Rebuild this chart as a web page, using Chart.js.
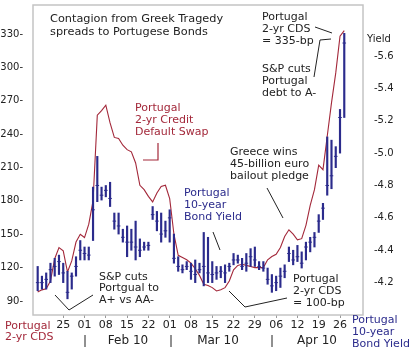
<!DOCTYPE html>
<html>
<head>
<meta charset="utf-8">
<script src="https://cdn.jsdelivr.net/npm/chart.js@4/dist/chart.umd.min.js"></script>
<style>
html,body{margin:0;padding:0;background:#fff;}
canvas{display:block;}
</style>
</head>
<body>
<canvas id="c" width="410" height="356"></canvas>
<script>
// Trading-day index (index 5 = Jan 25, 2010; 5 trading days per week)
const tradingDay = [-1,0,1,2,3,4,5,6,7,8,9,10,11,12,13,14,15,16,17,18,19,20,21,22,23,24,25,26,27,28,29,30,31,32,33,34,35,36,37,38,39,40,41,42,43,44,45,46,47,48,49,50,51,52,53,54,55,56,57,58,59,60,61,62,63,64,65,66,67,68,69,70,71];
const yieldHigh = [4.30,4.24,4.26,4.32,4.35,4.37,4.32,4.27,4.26,4.36,4.46,4.42,4.42,4.79,4.98,4.79,4.80,4.82,4.63,4.63,4.53,4.55,4.53,4.58,4.47,4.45,4.45,4.67,4.64,4.63,4.58,4.65,4.50,4.36,4.31,4.33,4.32,4.34,4.32,4.51,4.48,4.33,4.30,4.30,4.31,4.32,4.38,4.37,4.35,4.38,4.41,4.42,4.33,4.33,4.29,4.25,4.24,4.29,4.31,4.42,4.40,4.43,4.39,4.45,4.48,4.51,4.62,4.69,5.10,5.08,5.04,5.27,5.74];
const yieldLow  = [4.15,4.16,4.16,4.20,4.24,4.25,4.20,4.10,4.16,4.24,4.34,4.34,4.34,4.46,4.70,4.71,4.73,4.67,4.53,4.50,4.45,4.36,4.40,4.34,4.36,4.40,4.40,4.59,4.52,4.45,4.48,4.45,4.32,4.27,4.26,4.28,4.22,4.20,4.26,4.18,4.20,4.20,4.22,4.23,4.20,4.27,4.31,4.32,4.28,4.27,4.30,4.30,4.28,4.27,4.19,4.14,4.15,4.17,4.23,4.33,4.31,4.33,4.29,4.34,4.39,4.42,4.51,4.59,4.74,4.78,4.91,5.00,5.22];
const yieldClose= [4.20,4.20,4.22,4.28,4.30,4.33,4.26,4.14,4.24,4.30,4.40,4.38,4.37,4.65,4.80,4.74,4.77,4.72,4.58,4.55,4.48,4.45,4.45,4.42,4.40,4.42,4.43,4.62,4.58,4.50,4.52,4.60,4.35,4.30,4.28,4.30,4.27,4.25,4.28,4.30,4.26,4.25,4.26,4.27,4.26,4.30,4.34,4.34,4.30,4.32,4.36,4.34,4.30,4.29,4.22,4.18,4.20,4.24,4.27,4.38,4.34,4.36,4.32,4.42,4.45,4.48,4.58,4.66,4.80,4.86,4.98,5.22,5.68];
const cdsSpread = [98,100,101,108,128,138,135,116,126,143,150,147,159,180,257,261,266,250,237,236,230,226,224,214,194,190,184,179,187,193,194,182,150,131,129,127,124,119,113,105,104,102,99,100,102,108,118,122,123,122,121,120,120,120,127,130,132,138,148,154,150,145,146,158,176,190,212,208,238,268,295,328,333];

const xTickDays   = [5,10,15,20,25,30,35,40,45,50,55,60,65,70];
const xTickLabels = ['25','01','08','15','22','01','08','15','22','29','06','12','19','26'];
const leftTicks  = [90,120,150,180,210,240,270,300,330];
const rightTicks = [4.2,4.4,4.6,4.8,5.0,5.2,5.4,5.6];
const months = ['Feb 10','Mar 10','Apr 10'];

const RED = '#a3283a';
const BLUE = '#2b2b8c';
const FONT = "'DejaVu Sans', Verdana, sans-serif";

const annotations = {
  id: 'annot',
  afterDraw(chart) {
    const ctx = chart.ctx;
    const a = chart.chartArea;
    ctx.save();
    ctx.strokeStyle = '#c4c4c4';
    ctx.lineWidth = 1.5;
    ctx.strokeRect(a.left, a.top, a.right - a.left, a.bottom - a.top);

    function txt(lines, x, y, color, size, step) {
      ctx.fillStyle = color;
      ctx.font = size + 'px ' + FONT;
      ctx.textBaseline = 'middle';
      ctx.textAlign = 'left';
      lines.forEach((l, k) => ctx.fillText(l, x, y + k * step));
    }
    function poly(pts, color, w) {
      ctx.strokeStyle = color;
      ctx.lineWidth = w || 1;
      ctx.beginPath();
      pts.forEach((p, k) => k ? ctx.lineTo(p[0], p[1]) : ctx.moveTo(p[0], p[1]));
      ctx.stroke();
    }
    txt(['Contagion from Greek Tragedy', 'spreads to Portugese Bonds'], 50, 19, '#222', 11.3, 13);
    txt(['Portugal', '2-yr Credit', 'Default Swap'], 135, 108, RED, 11, 12);
    txt(['Portugal', '10-year', 'Bond Yield'], 184, 193, BLUE, 11, 12);
    txt(['Portugal', '2-yr CDS', '= 335-bp'], 262, 17, '#222', 11, 12);
    txt(['S&P cuts', 'Portugal', 'debt to A-'], 262, 69, '#222', 11, 12);
    txt(['Greece wins', '45-billion euro', 'bailout pledge'], 230, 152, '#222', 11, 12);
    txt(['S&P cuts', 'Portgual to', 'A+ vs AA-'], 99, 277, '#222', 11, 11.5);
    txt(['Portugal', '2-yr CDS', '= 100-bp'], 293, 279, '#222', 11, 12);
    txt(['Yield'], 367, 39, '#222', 10, 12);
    txt(['Portugal', '2-yr CDS'], 5, 326, RED, 11, 11.5);
    txt(['Portugal', '10-year', 'Bond Yield'], 352, 320, BLUE, 11, 12);

    ctx.fillStyle = '#222';
    ctx.font = '12px ' + FONT;
    ctx.textAlign = 'center';
    ctx.textBaseline = 'middle';
    ctx.fillText(months[0], 128, 341);
    ctx.fillText(months[1], 218, 341);
    ctx.fillText(months[2], 317, 341);
    [85, 171, 272].forEach(x => poly([[x, 335], [x, 347]], '#222', 1));

    poly([[315, 27], [332, 33]], '#222', 1);
    poly([[314, 77], [320, 40], [331, 39]], '#222', 1);
    poly([[267, 188], [283, 218]], '#222', 1);
    poly([[213, 232], [220, 250]], '#222', 1);
    poly([[158, 143], [158, 160], [143, 160]], RED, 1.2);
    poly([[55, 295], [69, 310], [93, 295]], '#222', 1);
    poly([[229, 291], [245, 307], [287, 298]], '#222', 1);
    ctx.restore();
  }
};

new Chart(document.getElementById('c'), {
  data: {
    datasets: [
      {
        type: 'bar',
        label: 'Portugal 10-year Bond Yield',
        yAxisID: 'y2',
        data: tradingDay.map((d, k) => ({x: d, y: [yieldLow[k], yieldHigh[k]]})),
        backgroundColor: BLUE,
        borderWidth: 0,
        barThickness: 1.5,
        order: 0
      },
      {
        type: 'scatter',
        label: 'close',
        yAxisID: 'y2',
        data: tradingDay.map((d, k) => ({x: d, y: yieldClose[k]})),
        pointStyle: 'line',
        radius: 1.8,
        borderColor: BLUE,
        borderWidth: 1,
        order: 0
      },
      {
        type: 'line',
        label: 'Portugal 2-yr CDS',
        yAxisID: 'y',
        data: tradingDay.map((d, k) => ({x: d, y: cdsSpread[k]})),
        borderColor: RED,
        borderWidth: 1.1,
        pointRadius: 0,
        tension: 0,
        fill: false,
        order: 1
      }
    ]
  },
  options: {
    responsive: false,
    devicePixelRatio: 1,
    animation: false,
    events: [],
    layout: {padding: {top: 5, left: 0, right: 0, bottom: 0}},
    plugins: {legend: {display: false}, tooltip: {enabled: false}},
    scales: {
      x: {
        type: 'linear',
        offset: false,
        min: -2.1,
        max: 75.4,
        afterBuildTicks: s => { s.ticks = xTickDays.map(v => ({value: v})); },
        afterFit: s => { s.height = 41; s.paddingLeft = 0; s.paddingRight = 0; },
        border: {display: false},
        grid: {drawOnChartArea: false, drawTicks: true, tickLength: 3, color: '#999', offset: false},
        ticks: {
          autoSkip: false, maxRotation: 0, padding: 1,
          color: '#222', font: {family: FONT, size: 11},
          callback: (v) => xTickLabels[xTickDays.indexOf(v)]
        }
      },
      y: {
        position: 'left',
        min: 77.4,
        max: 356,
        afterBuildTicks: s => { s.ticks = leftTicks.map(v => ({value: v})); },
        afterFit: s => { s.width = 33; s.paddingTop = 0; s.paddingBottom = 0; },
        border: {display: false},
        grid: {display: false},
        ticks: {padding: 2, color: '#222', font: {family: FONT, size: 10}, callback: v => v + '-'}
      },
      y2: {
        position: 'right',
        min: 4.0,
        max: 5.915,
        afterBuildTicks: s => { s.ticks = rightTicks.map(v => ({value: v})); },
        afterFit: s => { s.width = 47; s.paddingTop = 0; s.paddingBottom = 0; },
        border: {display: false},
        grid: {display: false},
        ticks: {padding: 3, color: '#222', font: {family: FONT, size: 10}, callback: v => '-' + v.toFixed(1)}
      }
    }
  },
  plugins: [annotations]
});
</script>
</body>
</html>
